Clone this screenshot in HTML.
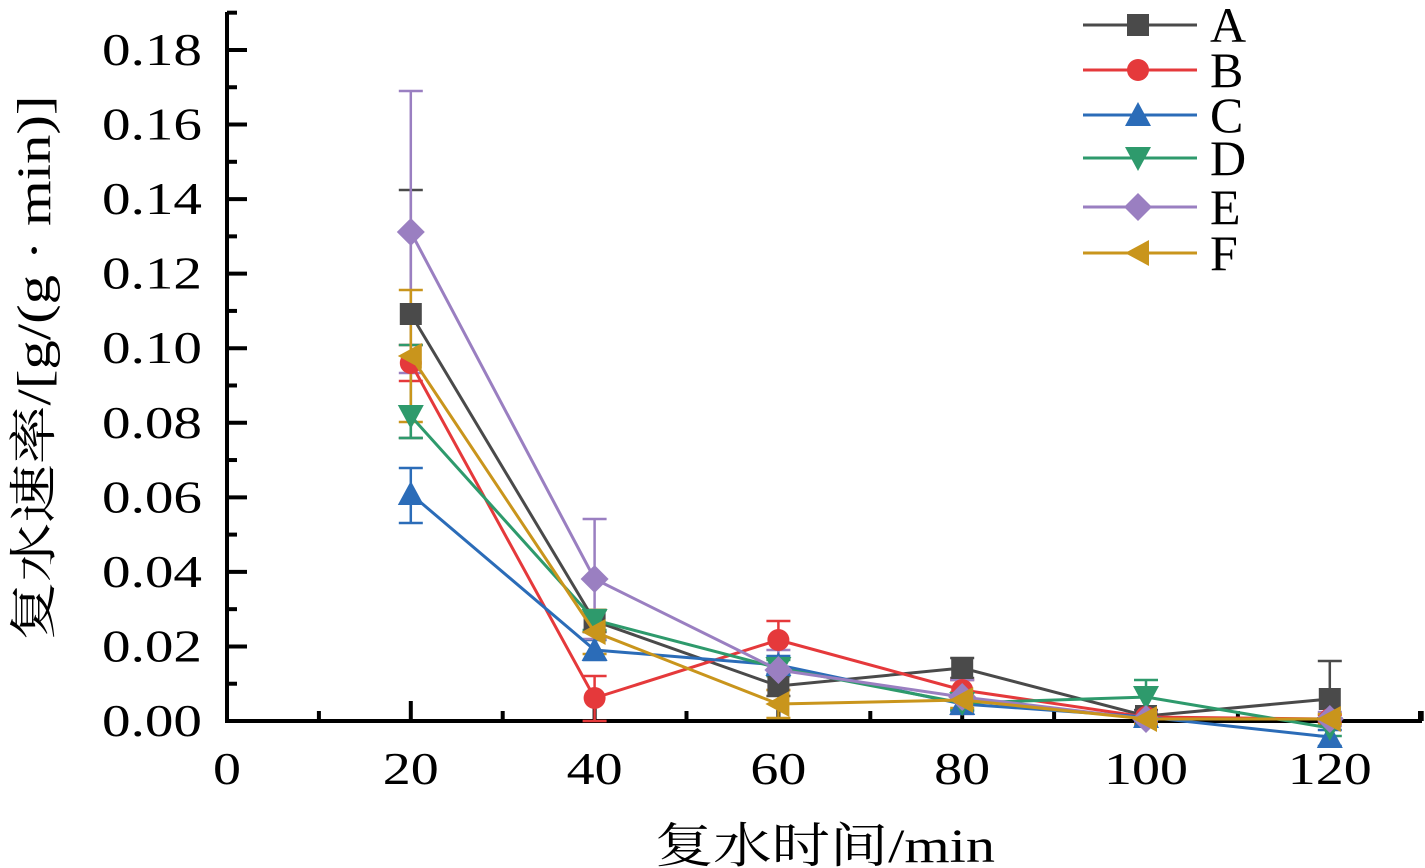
<!DOCTYPE html><html><head><meta charset="utf-8"><style>body{margin:0;background:#fff}svg{display:block}text{font-family:"Liberation Serif","Noto Serif CJK SC",serif;fill:#000}</style></head><body>
<svg width="1425" height="868" viewBox="0 0 1425 868" xmlns="http://www.w3.org/2000/svg">
<g id="ax" stroke="#000" stroke-width="4" fill="none">
<path d="M227,12 V721 H1422"/>
</g>
<g stroke="#000" stroke-width="4" id="ticks"></g>
<g id="yl" font-size="46" text-anchor="end"></g>
<g id="xl" font-size="46" text-anchor="middle"></g>
<text x="825" y="862" font-size="48" text-anchor="middle" textLength="340" lengthAdjust="spacingAndGlyphs">复水时间/min</text>
<text transform="translate(50,368) rotate(-90)" font-size="48" text-anchor="middle" textLength="545" lengthAdjust="spacingAndGlyphs">复水速率/[g/(g · min)]</text>
<g id="series"></g>
<g id="legend"></g>
</svg>
<script>
const NS="http://www.w3.org/2000/svg";
function el(p,t,a,txt){const e=document.createElementNS(NS,t);for(const k in a)e.setAttribute(k,a[k]);if(txt!=null)e.textContent=txt;document.getElementById(p).appendChild(e);return e;}
const X=t=>227+9.19*t;
for(let i=0;i<=19;i++){const y=721-i*0.01*3728;const L=i%2?10:20;el('ticks','line',{x1:227,x2:227+L,y1:y,y2:y});if(i%2==0)el('yl','text',{x:202,y:y+15,textLength:100,lengthAdjust:'spacingAndGlyphs'},(i*0.01).toFixed(2));}
for(let t=10;t<=130;t+=10){const x=X(t);const L=(t%20)?10:20;el('ticks','line',{x1:x,x2:x,y1:721,y2:721-L});}
el('ticks','line',{x1:1420,x2:1420,y1:721,y2:711});
for(let t=0;t<=120;t+=20){const s=String(t);el('xl','text',{x:X(t),y:784,textLength:s.length*28,lengthAdjust:'spacingAndGlyphs'},s);}
const T=[20,40,60,80,100,120];
const S=[
{n:'A',c:'#4a4a4a',m:'sq',y:[314,621,686,668,716,699],e:[[190,438],[610,632],[676,696],[658,678],[710,721],[661,721]]},
{n:'B',c:'#e5393b',m:'ci',y:[363,698,640,690,717,719],e:[[345,381],[676,721],[621,659],[680,700],[712,722],[715,722]]},
{n:'C',c:'#2b6cb8',m:'tu',y:[494,650,665,704,717,737],e:[[468,523],[640,660],[656,674],[697,711],[713,721],[730,746]]},
{n:'D',c:'#2e9a6c',m:'td',y:[416,620,668,703,697,728],e:[[345,438],[610,630],[660,676],[696,710],[680,714],[720,736]]},
{n:'E',c:'#9a7fc1',m:'di',y:[232,579,670,697,719,719],e:[[91,373],[519,639],[650,690],[680,714],[712,726],[712,726]]},
{n:'F',c:'#c9951c',m:'tl',y:[356,632,704,700,719,719],e:[[290,422],[610,654],[690,718],[692,708],[714,724],[714,724]]}];
function mk(g,m,x,y,c){const s=11;
if(m=='sq')el(g,'rect',{x:x-s,y:y-s,width:2*s,height:2*s,fill:c});
else if(m=='ci')el(g,'circle',{cx:x,cy:y,r:s,fill:c});
else if(m=='tu')el(g,'polygon',{points:`${x},${y-s-2} ${x-s-2},${y+s} ${x+s+2},${y+s}`,fill:c});
else if(m=='td')el(g,'polygon',{points:`${x},${y+s+2} ${x-s-2},${y-s} ${x+s+2},${y-s}`,fill:c});
else if(m=='di')el(g,'polygon',{points:`${x},${y-s-3} ${x+s+3},${y} ${x},${y+s+3} ${x-s-3},${y}`,fill:c});
else el(g,'polygon',{points:`${x-s-2},${y} ${x+s},${y-s-2} ${x+s},${y+s+2}`,fill:c});}
S.forEach(s=>{T.forEach((t,i)=>{const x=X(t),[a,b]=s.e[i];el('series','path',{d:`M${x},${a}V${b}M${x-12},${a}H${x+12}M${x-12},${b}H${x+12}`,stroke:s.c,'stroke-width':2.5,fill:'none'});});});
S.forEach(s=>{el('series','polyline',{points:T.map((t,i)=>X(t)+','+s.y[i]).join(' '),stroke:s.c,'stroke-width':3,fill:'none'});T.forEach((t,i)=>mk('series',s.m,X(t),s.y[i],s.c));});
const LY=[25,70,115,158,207,253];
S.forEach((s,i)=>{el('legend','line',{x1:1083,x2:1197,y1:LY[i],y2:LY[i],stroke:s.c,'stroke-width':3});mk('legend',s.m,1138,LY[i],s.c);el('legend','text',{x:1210,y:LY[i]+17,'font-size':50},s.n);});
</script>
</body></html>
